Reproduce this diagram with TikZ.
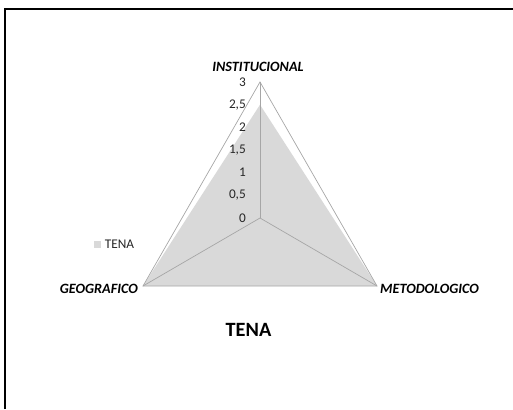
\documentclass[tikz,border=0pt]{standalone}
\usepackage{fontspec}
\setmainfont{Carlito}
\usetikzlibrary{positioning}

\begin{document}
\begin{tikzpicture}
[x=1pt,y=-1pt,
axislabel/.style={font=\fontsize{14.2}{16}\selectfont\bfseries\itshape},
ticklabel/.style={anchor=east,inner sep=0pt,text=black!85,font=\fontsize{13.3}{15}\selectfont},
gridline/.style={draw=black!35,line width=0.7pt},
seriesfill/.style={fill=black!15}]
  \useasboundingbox (0,0) rectangle (513,409);
  \draw [line width=1.6pt] (5,409) -- (5,9) -- (513,9);
  \coordinate (o) at (260,218);
  \coordinate (inst) at (260,82);
  \coordinate (geo) at (143,286);
  \coordinate (met) at (377,286);
  \coordinate (val) at (260,104.7);
  \fill [seriesfill] (val) -- (geo) -- (met) -- cycle;
  \draw [gridline] (inst) -- (geo) -- (met) -- cycle;
  \draw [gridline] (o) -- (inst);
  \draw [gridline] (o) -- (geo);
  \draw [gridline] (o) -- (met);
  \foreach \i/\t in {0/0,1/{0,5},2/1,3/{1,5},4/2,5/{2,5},6/3}
    \node [ticklabel] (tick\i) at (246,218-\i*22.67) {\t};
  \node [axislabel] (instlabel) at (258,66.5) {INSTITUCIONAL};
  \node [axislabel,anchor=east,inner sep=0pt] (geolabel) at (138,289) {GEOGRAFICO};
  \node [axislabel,anchor=west,inner sep=0pt] (metlabel) at (380,289) {METODOLOGICO};
  \node [fill=black!15,minimum size=7pt,inner sep=0pt] (legbox) at (97.5,244.5) {};
  \node [right=3.5pt of legbox,inner sep=0pt,text=black!85,font=\fontsize{13.3}{15}\selectfont] (legtext) {TENA};
  \node [font=\fontsize{20.3}{24}\selectfont\bfseries] (title) at (248.5,329.5) {TENA};
\end{tikzpicture}
\end{document}
